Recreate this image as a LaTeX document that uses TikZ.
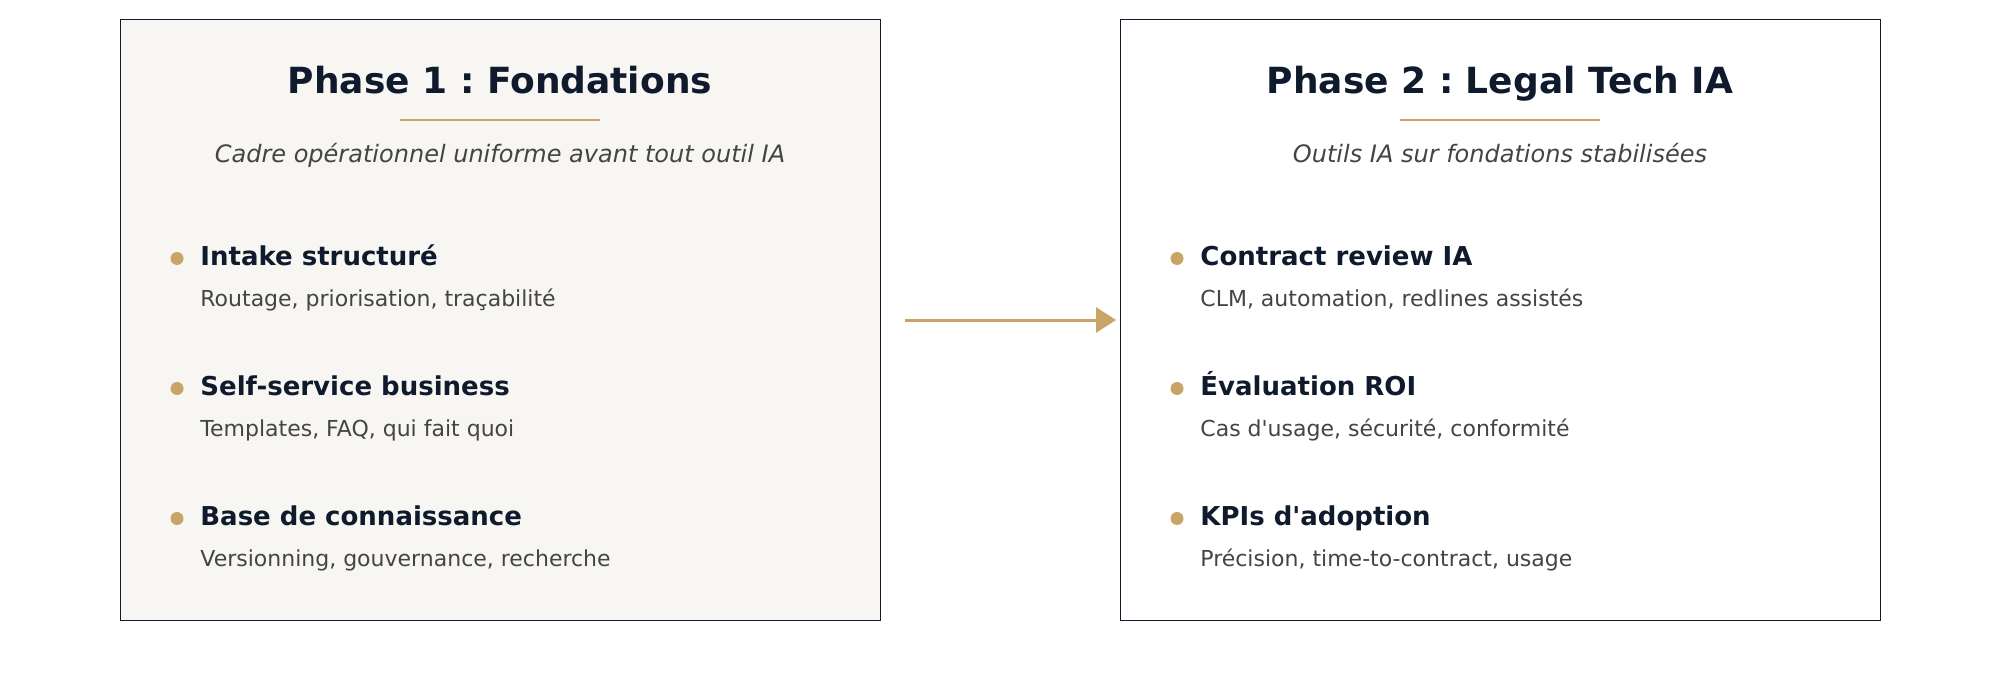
\documentclass[tikz,border=0pt]{standalone}
\usepackage{fontspec}
\setmainfont{DejaVu Sans}[Ligatures=TeXOff]
\frenchspacing
\usetikzlibrary{arrows.meta}
\definecolor{navy}{HTML}{0F1B2D}
\definecolor{gold}{HTML}{C8A566}
\definecolor{txtgray}{HTML}{444444}
\definecolor{cream}{HTML}{F7F6F2}
\tikzset{
  phasebox/.style={draw=navy, line width=0.5pt, rectangle, minimum width=380pt, minimum height=300pt, inner sep=0pt, outer sep=0pt},
  ptitle/.style={anchor=base, inner sep=0pt, text=navy, font=\fontsize{18pt}{20pt}\selectfont\bfseries},
  psub/.style={anchor=base, inner sep=0pt, text=txtgray, font=\fontsize{12pt}{14pt}\selectfont\itshape},
  ihead/.style={anchor=base west, inner sep=0pt, text=navy, font=\fontsize{13pt}{15pt}\selectfont\bfseries},
  idesc/.style={anchor=base west, inner sep=0pt, text=txtgray, font=\fontsize{11pt}{13pt}\selectfont},
  bul/.style={circle, fill=gold, inner sep=0pt, minimum size=6.5pt},
  goldrule/.style={draw=gold, line width=1pt},
  flow/.style={draw=gold, line width=1.5pt, -{Triangle[length=10pt, width=12.5pt]}}
}
\begin{document}
\begin{tikzpicture}[x=0.5pt, y=-0.5pt]
\useasboundingbox[fill=white] (0,0) rectangle (2000,700);
% boxes
\node[phasebox, fill=cream] (b1) at (500,320) {};
\node[phasebox, fill=white] (b2) at (1500,320) {};
% phase 1
\node[ptitle] (t1) at (500,94) {Phase 1 : Fondations};
\coordinate (r1a) at (400,120); \coordinate (r1b) at (600,120);
\draw[goldrule] (r1a) -- (r1b);
\node[psub] (s1) at (500,163) {Cadre opérationnel uniforme avant tout outil IA};
\node[bul] (d11) at (177,258.5) {};
\node[ihead] (h11) at (200,265) {Intake structuré};
\node[idesc] (e11) at (200,306) {Routage, priorisation, traçabilité};
\node[bul] (d12) at (177,388.5) {};
\node[ihead] (h12) at (200,395) {Self-service business};
\node[idesc] (e12) at (200,436) {Templates, FAQ, qui fait quoi};
\node[bul] (d13) at (177,518.5) {};
\node[ihead] (h13) at (200,525) {Base de connaissance};
\node[idesc] (e13) at (200,566) {Versionning, gouvernance, recherche};
% phase 2
\node[ptitle] (t2) at (1500,94) {Phase 2 : Legal Tech IA};
\coordinate (r2a) at (1400,120); \coordinate (r2b) at (1600,120);
\draw[goldrule] (r2a) -- (r2b);
\node[psub] (s2) at (1500,163) {Outils IA sur fondations stabilisées};
\node[bul] (d21) at (1177,258.5) {};
\node[ihead] (h21) at (1200,265) {Contract review IA};
\node[idesc] (e21) at (1200,306) {CLM, automation, redlines assistés};
\node[bul] (d22) at (1177,388.5) {};
\node[ihead] (h22) at (1200,395) {Évaluation ROI};
\node[idesc] (e22) at (1200,436) {Cas d'usage, sécurité, conformité};
\node[bul] (d23) at (1177,518.5) {};
\node[ihead] (h23) at (1200,525) {KPIs d'adoption};
\node[idesc] (e23) at (1200,566) {Précision, time-to-contract, usage};
% arrow
\draw[flow, shorten <=12.5pt, shorten >=2pt] (b1.east) -- (b2.west);
\end{tikzpicture}
\end{document}
